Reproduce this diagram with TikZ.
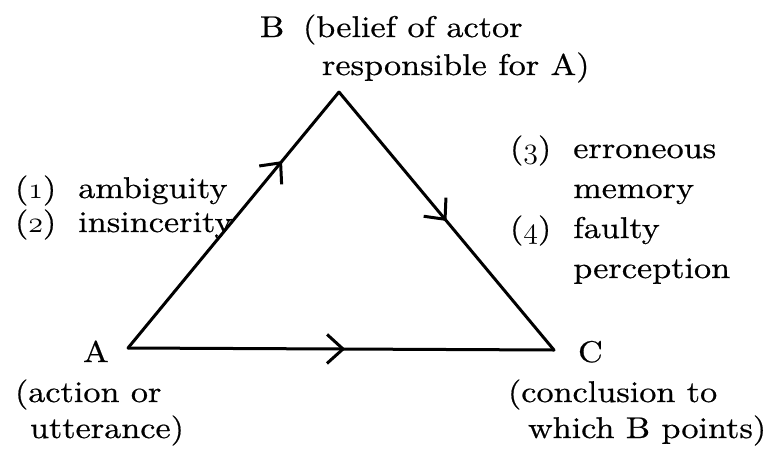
\RequirePackage{fix-cm}
\documentclass[tikz,border=0pt]{standalone}
\usepackage{fontspec}
\setmainfont{lmroman10-regular.otf}[FakeStretch=1.14,FakeBold=0.6]
\usetikzlibrary{arrows.meta,decorations.markings}
\newcommand\osn[1]{{\fontencoding{OML}\fontfamily{cmm}\fontseries{m}\fontshape{it}\selectfont #1}}
\tikzset{
  txt/.style={anchor=base west, inner sep=0pt, outer sep=0pt,
              font=\fontsize{30}{#1}\selectfont},
  txt/.default=37,
  edge/.style={line width=3pt, line cap=round, line join=round,
    postaction={decorate, decoration={markings,
      mark=at position #1 with {\arrow{Straight Barb[length=16pt,width=29pt,line width=3pt]}}}}}
}
\begin{document}
\begin{tikzpicture}[x=1pt,y=-1pt]
\useasboundingbox (0,0) rectangle (765,450);
\coordinate (vA) at (128,348);
\coordinate (vB) at (339,92);
\coordinate (vC) at (554,350);
\draw[edge=0.73] (vA) -- (vB);
\draw[edge=0.5] (vB) -- (vC);
\draw[edge=0.51] (vA) -- (vC);
% labels
\node[txt] (B) at (260,37) {B};
\node[txt=38] (Bd) at (303,37) {\begin{tabular}[t]{@{}l@{}}(belief of actor\\\hspace*{19pt}responsible for A)\end{tabular}};
\node[txt=34] (L) at (15,198) {\begin{tabular}[t]{@{}l@{\hspace{22pt}}l@{}}(\osn{1}) & ambiguity\\(\osn{2}) & insincerity\end{tabular}};
\node[txt=40] (R) at (510,158) {\begin{tabular}[t]{@{}l@{\hspace{22pt}}l@{}}(\osn{3}) & erroneous\\ & memory\\(\osn{4}) & faulty\\ & perception\end{tabular}};
\node[txt] (A) at (83,362) {A};
\node[txt=36] (Ad) at (15,402) {\begin{tabular}[t]{@{}l@{}}(action or\\\hspace*{15pt}utterance)\end{tabular}};
\node[txt] (C) at (578,362) {C};
\node[txt=36] (Cd) at (508,402) {\begin{tabular}[t]{@{}l@{}}(conclusion to\\\hspace*{20pt}which B points)\end{tabular}};
\end{tikzpicture}
\end{document}
